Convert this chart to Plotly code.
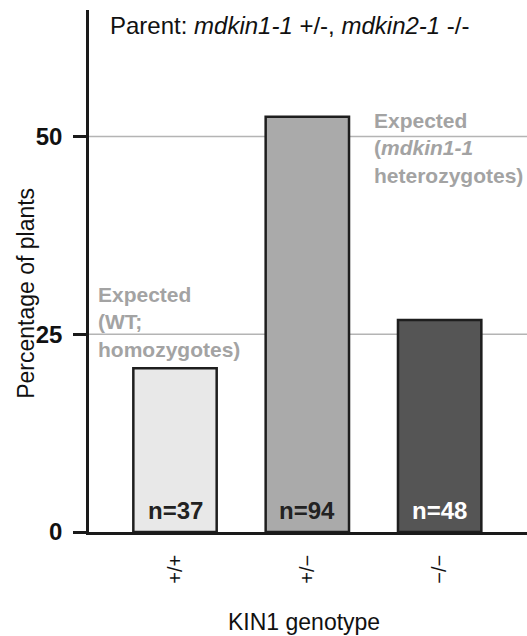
import plotly.graph_objects as go

categories = ["+/+", "+/\u2212", "\u2212/\u2212"]
counts = [37, 94, 48]
percentages = [20.7, 52.5, 26.8]
bar_colors = ["#e8e8e8", "#aaaaaa", "#555555"]
label_colors = ["#222222", "#222222", "#ffffff"]
y_ticks = [0, 25, 50]
expected_levels = [25, 50]

FONT = "Liberation Sans, Arial, sans-serif"
x_idx = list(range(len(categories)))

fig = go.Figure()
fig.add_trace(go.Bar(
    x=x_idx, y=percentages, width=0.63,
    marker=dict(color=bar_colors, line=dict(color="#1e1e1e", width=2.5)),
    hoverinfo="skip", showlegend=False,
))

annotations = []
for i, (n, c) in enumerate(zip(counts, label_colors)):
    annotations.append(dict(
        x=i, y=0, xref="x", yref="y", text=f"<b>n={n}</b>", showarrow=False,
        yanchor="bottom", yshift=6, font=dict(family=FONT, size=24, color=c)))

annotations += [
    dict(x=0.043, y=0.971, xref="paper", yref="paper", xanchor="left", yanchor="middle",
         text="Parent: <i>mdkin1-1</i> +/-, <i>mdkin2-1</i> -/-", showarrow=False,
         font=dict(family=FONT, size=24, color="#111111")),
    dict(x=0.016, y=0.402, xref="paper", yref="paper", xanchor="left", yanchor="middle",
         align="left", text="<b>Expected<br>(WT;<br>homozygotes)</b>", showarrow=False,
         font=dict(family=FONT, size=21, color="#a3a3a3")),
    dict(x=0.646, y=0.736, xref="paper", yref="paper", xanchor="left", yanchor="middle",
         align="left", text="<b>Expected<br>(<i>mdkin1-1</i><br>heterozygotes)</b>", showarrow=False,
         font=dict(family=FONT, size=21, color="#a3a3a3")),
    dict(x=0.491, y=-0.172, xref="paper", yref="paper", xanchor="center", yanchor="middle",
         text="KIN1 genotype", showarrow=False,
         font=dict(family=FONT, size=23, color="#111111")),
    dict(x=-0.144, y=0.458, xref="paper", yref="paper", xanchor="center", yanchor="middle",
         text="Percentage of plants", textangle=-90, showarrow=False,
         font=dict(family=FONT, size=23, color="#111111")),
]

fig.update_layout(
    width=527, height=636,
    margin=dict(l=89, r=0, t=10, b=104, pad=0),
    paper_bgcolor="white", plot_bgcolor="white",
    annotations=annotations,
    xaxis=dict(range=[-0.65, 2.66], tickvals=x_idx, ticktext=categories, tickangle=-90,
               showline=True, linecolor="#1a1a1a", linewidth=2.5, ticks="",
               showgrid=False, zeroline=False, ticklabelstandoff=12,
               tickfont=dict(family=FONT, size=20, color="#111111")),
    yaxis=dict(range=[0, 66], tickvals=y_ticks, ticktext=[str(v) for v in y_ticks],
               showline=True, linecolor="#1a1a1a", linewidth=2.5, ticks="outside",
               ticklen=13, tickwidth=2.5, tickcolor="#1a1a1a", zeroline=False,
               showgrid=False, ticklabelstandoff=6,
               tickfont=dict(family=FONT, size=24, color="#111111", weight="bold")),
    font=dict(family=FONT),
)

for lvl in expected_levels:
    fig.add_shape(type="line", xref="paper", yref="y", x0=0, x1=1, y0=lvl, y1=lvl,
                  line=dict(color="#b4b4b4", width=1.5), layer="below")

fig.write_html("out.html", config={"displayModeBar": False},
               post_script="document.body.style.margin='0px';document.body.style.overflow='hidden';")
